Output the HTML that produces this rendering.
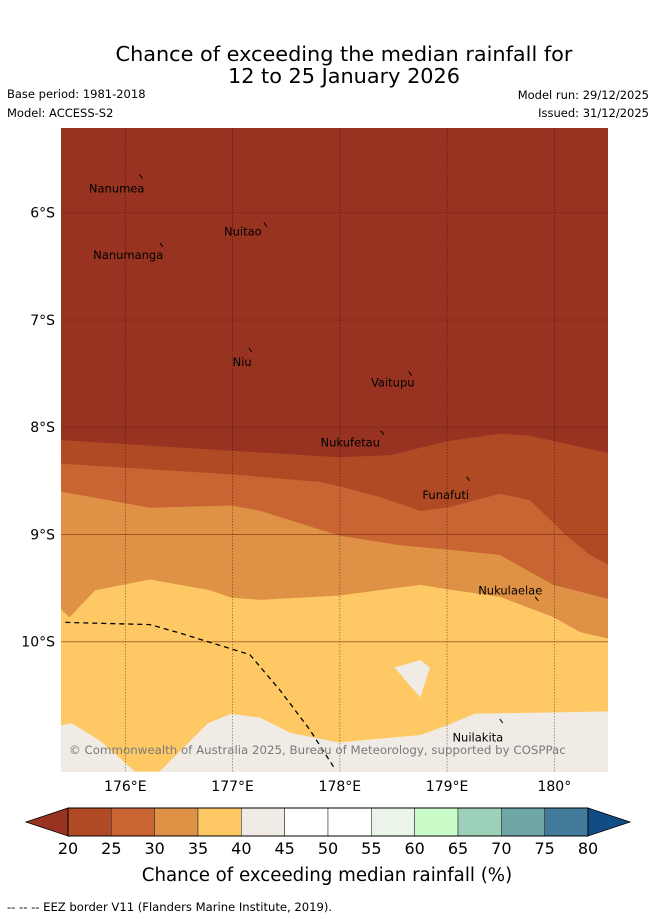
<!DOCTYPE html>
<html><head><meta charset="utf-8"><style>
body{margin:0;background:#fff;width:655px;height:919px;overflow:hidden;font-family:"Liberation Sans","DejaVu Sans",sans-serif}
svg{display:block}
</style></head><body>
<svg id="c" width="655" height="919" viewBox="0 0 655 919" font-family="DejaVu Sans, Liberation Sans, sans-serif">
<text x="344" y="61" font-size="20.8" text-anchor="middle">Chance of exceeding the median rainfall for</text>
<text x="344" y="83" font-size="20.8" text-anchor="middle">12 to 25 January 2026</text>
<text x="7" y="98" font-size="11.5">Base period: 1981-2018</text>
<text x="7" y="117" font-size="11.5">Model: ACCESS-S2</text>
<text x="649" y="99" font-size="11.5" text-anchor="end">Model run: 29/12/2025</text>
<text x="649" y="117" font-size="11.5" text-anchor="end">Issued: 31/12/2025</text>
<defs><clipPath id="mc"><rect x="61" y="128" width="547" height="644"/></clipPath></defs>
<g id="map" clip-path="url(#mc)"></g>
<g id="axes"></g>
<g id="cb"></g>
<text x="327" y="881" font-size="18.2" text-anchor="middle">Chance of exceeding median rainfall (%)</text>
<text x="7" y="911" font-size="11.6">-- -- -- EEZ border V11 (Flanders Marine Institute, 2019).</text>
</svg>
<script>
// Contour boundary data (longitude °E, latitude °S)
const b1Lon=[175.40,176.99,177.99,178.47,179.00,179.49,179.77,180.50];
const b1Lat=[8.12,8.22,8.28,8.26,8.13,8.06,8.08,8.24];
const b2Lon=[175.40,176.99,177.81,177.99,178.37,178.75,179.00,179.49,179.77,179.99,180.10,180.33,180.50];
const b2Lat=[8.34,8.44,8.51,8.55,8.65,8.78,8.75,8.62,8.68,8.89,9.00,9.19,9.28];
const b3Lon=[175.40,176.23,176.99,177.26,177.99,178.56,179.00,179.49,179.99,180.50];
const b3Lat=[8.60,8.75,8.73,8.78,9.01,9.10,9.14,9.19,9.47,9.60];
const b4Lon=[175.40,175.48,175.72,176.23,176.79,176.99,177.26,177.99,178.75,179.00,179.49,179.99,180.24,180.50];
const b4Lat=[9.70,9.77,9.52,9.42,9.52,9.59,9.61,9.57,9.47,9.51,9.58,9.77,9.91,9.97];
const b5Lon=[175.40,175.50,175.76,176.09,176.32,176.77,176.99,177.26,177.54,177.99,178.75,179.00,179.26,179.99,180.50];
const b5Lat=[10.78,10.76,10.92,11.21,11.21,10.76,10.67,10.71,10.85,10.94,10.87,10.78,10.67,10.66,10.65];
const islandLon=[178.51,178.75,178.84,178.75];
const islandLat=[10.24,10.17,10.24,10.52];
const eezLon=[175.44,176.23,176.51,177.16,177.44,177.72,177.95];
const eezLat=[9.82,9.84,9.92,10.12,10.45,10.82,11.18];
const lonTicks=[176,177,178,179,180];
const lonLabels=["176°E","177°E","178°E","179°E","180°"];
const latTicks=[6,7,8,9,10];
const latLabels=["6°S","7°S","8°S","9°S","10°S"];
const cbValues=[20,25,30,35,40,45,50,55,60,65,70,75,80];
const cbColors=["#b04a25","#c96533","#df9245","#fec964","#f0ebe5","#ffffff","#ffffff","#eaf4e9","#c9fcc9","#9dd0b9","#6fa6a8","#427b9a"];
const placeNames=["Nanumea","Nuitao","Nanumanga","Niu","Vaitupu","Nukufetau","Funafuti","Nukulaelae","Nuilakita"];
const placeLon=[175.66,176.92,175.70,177.00,178.29,177.82,178.77,179.29,179.05];
const placeLat=[5.81,6.21,6.43,7.43,7.62,8.18,8.67,9.56,10.93];
const islandMarkLon=[176.15,177.31,176.34,177.17,178.66,178.40,179.20,179.84,179.51];
const islandMarkLat=[5.66,6.11,6.30,7.28,7.50,8.05,8.48,9.60,10.74];

const NS="http://www.w3.org/2000/svg";
const X=lon=>61+(lon-175.4)*107.25;
const Y=lat=>128+(lat-5.21)*107.25;
function mk(tag,attrs,parent){const e=document.createElementNS(NS,tag);for(const k in attrs)e.setAttribute(k,attrs[k]);parent.appendChild(e);return e;}
const map=document.getElementById('map');
function pts(lo,la){return lo.map((v,i)=>X(v).toFixed(1)+','+Y(la[i]).toFixed(1)).join(' ');}
function band(lo,la,color,name){
  const p=mk('polygon',{points:pts(lo,la)+' '+X(180.6)+','+Y(11.4)+' '+X(175.3)+','+Y(11.4),fill:color},map);
  
  
}
const bg=mk('rect',{x:61,y:128,width:547,height:644,fill:'#973320'},map);


band(b1Lon,b1Lat,'#b04a25','band-20-25');
band(b2Lon,b2Lat,'#c96533','band-25-30');
band(b3Lon,b3Lat,'#df9245','band-30-35');
band(b4Lon,b4Lat,'#fec964','band-35-40');
band(b5Lon,b5Lat,'#f0ebe5','band-40-45');
const isl=mk('polygon',{points:pts(islandLon,islandLat),fill:'#f0ebe5'},map);


lonTicks.forEach(v=>{const l=mk('line',{x1:X(v),x2:X(v),y1:128,y2:772,stroke:'#000','stroke-opacity':0.45,'stroke-width':0.8,'stroke-dasharray':'1.5,1.5'},map);
  
  });
latTicks.forEach(v=>{const l=mk('line',{x1:61,x2:608,y1:Y(v),y2:Y(v),stroke:'#7a2a1a','stroke-opacity':0.6,'stroke-width':1},map);
  
  });
const eez=mk('polyline',{points:pts(eezLon,eezLat),fill:'none',stroke:'#000','stroke-width':1.3,'stroke-dasharray':'5,4'},map);


islandMarkLon.forEach((v,i)=>{const m=mk('line',{x1:X(v)-2,y1:Y(islandMarkLat[i])-2,x2:X(v)+1,y2:Y(islandMarkLat[i])+2,stroke:'#000','stroke-width':1},map);
  
  });
placeNames.forEach((n,i)=>{const t=mk('text',{x:X(placeLon[i]),y:Y(placeLat[i]),'font-size':11.5,fill:'#000'},map);t.textContent=n;
  
  });
const cp=mk('text',{x:69,y:754,'font-size':11.8,fill:'#7a7a7a'},map);cp.textContent='© Commonwealth of Australia 2025, Bureau of Meteorology, supported by COSPPac';


const ax=document.getElementById('axes');
lonTicks.forEach((v,i)=>{const t=mk('text',{x:X(v),y:791,'font-size':14,'text-anchor':'middle'},ax);t.textContent=lonLabels[i];
  
  });
latTicks.forEach((v,i)=>{const t=mk('text',{x:55,y:Y(v)+5,'font-size':14,'text-anchor':'end'},ax);t.textContent=latLabels[i];
  
  });
const cb=document.getElementById('cb');
const cx=v=>68+(v-20)*(520/60);
const lo=mk('polygon',{points:'68,808 26,822 68,836',fill:'#973320',stroke:'#000','stroke-width':0.8},cb);


const hi=mk('polygon',{points:'588,808 630,822 588,836',fill:'#124c85',stroke:'#000','stroke-width':0.8},cb);


cbColors.forEach((c,i)=>{const r=mk('rect',{x:cx(cbValues[i]),y:808,width:cx(cbValues[i+1])-cx(cbValues[i]),height:28,fill:c,stroke:'#333','stroke-width':0.6},cb);
  
  });
mk('rect',{x:68,y:808,width:520,height:28,fill:'none',stroke:'#000','stroke-width':1},cb);
cbValues.forEach(v=>{const t=mk('text',{x:cx(v),y:854,'font-size':16,'text-anchor':'middle'},cb);t.textContent=v;
  
  });
</script>
</body></html>
